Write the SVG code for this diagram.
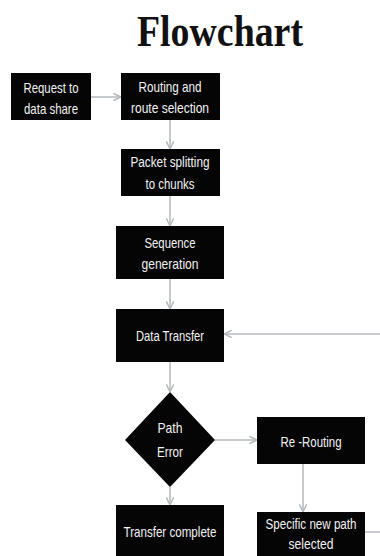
<svg xmlns="http://www.w3.org/2000/svg" width="380" height="556" viewBox="0 0 380 556">
  <style>
    .box { fill: #050505; }
    .lbl { fill: #f2f2f2; font-family: "Liberation Sans", Arial, sans-serif; font-size: 15px; text-anchor: middle; }
    .small { font-size: 14px; }
    .title { fill: #111; font-family: "Liberation Serif", "Times New Roman", serif; font-weight: bold; font-size: 45px; text-anchor: middle; }
    .wire { fill: none; stroke: #b4b9be; stroke-width: 1.5; }
  </style>
  <defs>
    <marker id="arrow" viewBox="0 0 10 10" refX="9" refY="5" markerWidth="5" markerHeight="5" orient="auto">
      <path d="M0,0 L10,5 L0,10" fill="none" stroke="#b4b9be" stroke-width="2"/>
    </marker>
  </defs>
  <rect width="380" height="556" fill="#ffffff"/>

  <text class="title" x="220" y="46" textLength="166" lengthAdjust="spacingAndGlyphs">Flowchart</text>

  <g id="connectors">
    <line class="wire" x1="91" y1="97" x2="120" y2="97" marker-end="url(#arrow)"/>
    <line class="wire" x1="170" y1="120" x2="170" y2="148" marker-end="url(#arrow)"/>
    <line class="wire" x1="170" y1="196" x2="170" y2="225" marker-end="url(#arrow)"/>
    <line class="wire" x1="170" y1="279" x2="170" y2="308" marker-end="url(#arrow)"/>
    <line class="wire" x1="170" y1="362" x2="170" y2="391" marker-end="url(#arrow)"/>
    <line class="wire" x1="215" y1="440" x2="256" y2="440" marker-end="url(#arrow)"/>
    <line class="wire" x1="170" y1="487" x2="170" y2="504" marker-end="url(#arrow)"/>
    <line class="wire" x1="303" y1="464" x2="303" y2="511" marker-end="url(#arrow)"/>
    <line class="wire" x1="365" y1="532" x2="380" y2="532"/>
    <line class="wire" x1="380" y1="334" x2="225" y2="334" marker-end="url(#arrow)"/>
  </g>

  <g id="request">
    <rect class="box" x="11" y="73" width="80" height="47"/>
    <text class="lbl" x="51" y="93" textLength="55" lengthAdjust="spacingAndGlyphs">Request to</text>
    <text class="lbl" x="51" y="114" textLength="54" lengthAdjust="spacingAndGlyphs">data share</text>
  </g>
  <g id="routing">
    <rect class="box" x="121" y="73" width="99" height="47"/>
    <text class="lbl" x="170" y="92" textLength="63" lengthAdjust="spacingAndGlyphs">Routing and</text>
    <text class="lbl" x="170" y="113" textLength="78" lengthAdjust="spacingAndGlyphs">route selection</text>
  </g>
  <g id="splitting">
    <rect class="box" x="121" y="149" width="99" height="47"/>
    <text class="lbl" x="170" y="167" textLength="79" lengthAdjust="spacingAndGlyphs">Packet splitting</text>
    <text class="lbl" x="170" y="189" textLength="49" lengthAdjust="spacingAndGlyphs">to chunks</text>
  </g>
  <g id="sequence">
    <rect class="box" x="116" y="226" width="108" height="53"/>
    <text class="lbl" x="170" y="248" textLength="51" lengthAdjust="spacingAndGlyphs">Sequence</text>
    <text class="lbl" x="170" y="269" textLength="57" lengthAdjust="spacingAndGlyphs">generation</text>
  </g>
  <g id="transfer">
    <rect class="box" x="116" y="309" width="108" height="53"/>
    <text class="lbl" x="170" y="341" textLength="68" lengthAdjust="spacingAndGlyphs">Data Transfer</text>
  </g>
  <g id="path-error">
    <polygon class="box" points="170,392 215,440 170,487 125,440"/>
    <text class="lbl" x="170" y="433" textLength="25" lengthAdjust="spacingAndGlyphs">Path</text>
    <text class="lbl" x="170" y="457" textLength="26" lengthAdjust="spacingAndGlyphs">Error</text>
  </g>
  <g id="rerouting">
    <rect class="box" x="257" y="417" width="108" height="47"/>
    <text class="lbl" x="311" y="447" textLength="61" lengthAdjust="spacingAndGlyphs">Re -Routing</text>
  </g>
  <g id="complete">
    <rect class="box" x="116" y="505" width="108" height="51"/>
    <text class="lbl" x="170" y="537" textLength="93" lengthAdjust="spacingAndGlyphs">Transfer complete</text>
  </g>
  <g id="new-path">
    <rect class="box" x="257" y="512" width="108" height="44"/>
    <text class="lbl small" x="311" y="529" textLength="91" lengthAdjust="spacingAndGlyphs">Specific new path</text>
    <text class="lbl small" x="311" y="549" textLength="45" lengthAdjust="spacingAndGlyphs">selected</text>
  </g>
</svg>
